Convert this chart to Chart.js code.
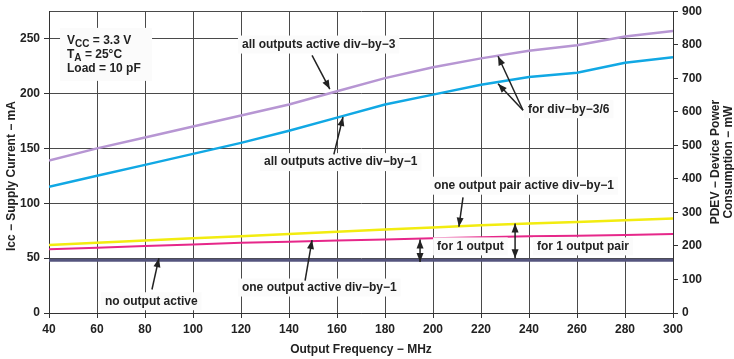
<!DOCTYPE html>
<html>
<head>
<meta charset="utf-8">
<script src="https://cdn.jsdelivr.net/npm/chart.js@4"></script>
<style>
  html, body { margin: 0; padding: 0; background: #fff; }
  canvas { display: block; }
</style>
</head>
<body>
<canvas id="grafico" width="734" height="359"></canvas>
<script>
// output frequency (MHz)
const freq = [40, 60, 80, 100, 120, 140, 160, 180, 200, 220, 240, 260, 280, 300];

// supply current (mA)
const allDivBy3  = [139, 150, 160, 170, 180, 190, 202, 214, 224, 232, 239, 244, 252, 257];
const allDivBy1  = [115, 125, 135, 145, 155, 166, 178, 190, 199, 208, 215, 219, 228, 233];
const pairDivBy1 = [62, 64, 66, 68, 70, 72, 74, 76, 78, 80, 81.5, 83, 84.5, 86];
const oneDivBy1  = [58, 59.5, 61, 62.5, 64, 65, 66, 67, 68, 69, 70, 70.5, 71, 72];
const noOutput   = [48, 48, 48, 48, 48, 48, 48, 48, 48, 48, 48, 48, 48, 48];

const FONT = 'bold 12px "Liberation Sans", Arial, sans-serif';

function pts(vals) {
  return freq.map((f, i) => ({ x: f, y: vals[i] }));
}

function line(vals, color, width) {
  return {
    data: pts(vals),
    borderColor: color,
    borderWidth: width,
    pointRadius: 0,
    tension: 0,
    fill: false
  };
}

// text labels: [text, MHz, mA] (left edge, middle)
const notes = [
  ['all outputs active div\u2212by\u22123', 120.4, 244.6],
  ['all outputs active div\u2212by\u22121', 129.6, 137.5],
  ['for div\u2212by\u22123/6', 239.6, 185.7],
  ['one output pair active div\u2212by\u22121', 200.4, 116],
  ['for 1 output', 201.7, 60.7],
  ['for 1 output pair', 243.3, 60.7],
  ['no output active', 63.3, 10.7],
  ['one output active div\u2212by\u22121', 120.4, 23.2]
];

// arrows: [fromMHz, fromMA, toMHz, toMA, doubleHeaded]
const arrows = [
  [149.6, 234.8, 157.0, 204.0, false],
  [158.7, 144.6, 162.5, 178.6, false],
  [237.5, 184.8, 227.1, 233.9, false],
  [237.5, 184.8, 227.1, 208.9, false],
  [212.5, 105.4, 210.8, 78.6, false],
  [194.6, 67.0, 194.6, 46.5, true],
  [234.2, 81.5, 234.2, 50.0, true],
  [82.9, 21.4, 85.8, 50.0, false],
  [146.7, 29.5, 149.6, 66.5, false]
];

function head(ctx, x1, y1, x2, y2) {
  const a = Math.atan2(y2 - y1, x2 - x1);
  const L = 9, W = 3.5;
  ctx.beginPath();
  ctx.moveTo(x2, y2);
  ctx.lineTo(x2 - L * Math.cos(a) + W * Math.sin(a), y2 - L * Math.sin(a) - W * Math.cos(a));
  ctx.lineTo(x2 - L * Math.cos(a) - W * Math.sin(a), y2 - L * Math.sin(a) + W * Math.cos(a));
  ctx.closePath();
  ctx.fill();
}

const notesPlugin = {
  id: 'notes',
  afterDatasetsDraw(chart) {
    const ctx = chart.ctx;
    const sx = chart.scales.x, sy = chart.scales.y;
    ctx.save();
    ctx.font = FONT;
    ctx.textBaseline = 'middle';

    // conditions box
    const bx = sx.getPixelForValue(44.6), by = sy.getPixelForValue(259.8);
    ctx.fillStyle = '#fbfbfb';
    ctx.fillRect(bx, by, 92, 53);
    ctx.fillStyle = '#222';
    const tx = bx + 7;
    ctx.fillText('V', tx, by + 13);
    let w = ctx.measureText('V').width;
    ctx.font = 'bold 10px "Liberation Sans", Arial, sans-serif';
    ctx.fillText('CC', tx + w, by + 16);
    let w2 = ctx.measureText('CC').width;
    ctx.font = FONT;
    ctx.fillText(' = 3.3 V', tx + w + w2, by + 13);
    ctx.fillText('T', tx, by + 27);
    w = ctx.measureText('T').width;
    ctx.font = 'bold 10px "Liberation Sans", Arial, sans-serif';
    ctx.fillText('A', tx + w, by + 30);
    w2 = ctx.measureText('A').width;
    ctx.font = FONT;
    ctx.fillText(' = 25\u00B0C', tx + w + w2, by + 27);
    ctx.fillText('Load = 10 pF', tx, by + 41);

    notes.forEach(([t, f, v]) => {
      const x = sx.getPixelForValue(f), y = sy.getPixelForValue(v);
      const tw = ctx.measureText(t).width;
      ctx.fillStyle = '#fbfbfb';
      ctx.fillRect(x - 4, y - 9, tw + 8, 18);
      ctx.fillStyle = '#222';
      ctx.fillText(t, x, y);
    });

    ctx.strokeStyle = '#222';
    ctx.fillStyle = '#222';
    ctx.lineWidth = 1.5;
    arrows.forEach(([f1, v1, f2, v2, dbl]) => {
      const x1 = sx.getPixelForValue(f1), y1 = sy.getPixelForValue(v1);
      const x2 = sx.getPixelForValue(f2), y2 = sy.getPixelForValue(v2);
      ctx.beginPath();
      ctx.moveTo(x1, y1);
      ctx.lineTo(x2, y2);
      ctx.stroke();
      head(ctx, x1, y1, x2, y2);
      if (dbl) head(ctx, x2, y2, x1, y1);
    });

    // axis titles
    ctx.fillStyle = '#222';
    ctx.textAlign = 'center';
    const area = chart.chartArea;
    const mid = (area.top + area.bottom) / 2;
    ctx.fillText('Output Frequency \u2212 MHz', (area.left + area.right) / 2, 350);
    ctx.translate(12, mid + 14);
    ctx.rotate(-Math.PI / 2);
    ctx.fillText('Icc \u2212 Supply Current \u2212 mA', 0, 0);
    ctx.restore();

    ctx.save();
    ctx.font = FONT;
    ctx.fillStyle = '#222';
    ctx.textAlign = 'center';
    ctx.textBaseline = 'middle';
    ctx.translate(716, mid);
    ctx.rotate(-Math.PI / 2);
    ctx.fillText('PDEV \u2212 Device Power', 0, 0);
    ctx.fillText('Consumption \u2212 mW', 0, 13);
    ctx.restore();
  }
};

const tickFont = { family: '"Liberation Sans", Arial, sans-serif', size: 12, weight: 'bold' };

new Chart(document.getElementById('grafico'), {
  type: 'line',
  data: {
    datasets: [
      line(noOutput, '#55557e', 3),
      line(oneDivBy1, '#e6278a', 2),
      line(pairDivBy1, '#f2ec10', 2.5),
      line(allDivBy1, '#11a8e4', 2.5),
      line(allDivBy3, '#b796d3', 2.5)
    ]
  },
  options: {
    responsive: false,
    animation: false,
    layout: { padding: { top: 5, left: 0, right: 0, bottom: 0 } },
    plugins: { legend: { display: false }, tooltip: { enabled: false } },
    scales: {
      x: {
        type: 'linear',
        min: 40,
        max: 300,
        ticks: { stepSize: 20, font: tickFont, color: '#222', padding: 4, maxRotation: 0 },
        grid: { color: '#4a4a4a', tickLength: 5, tickColor: '#333' },
        border: { color: '#333' },
        afterFit(s) { s.height = 46; }
      },
      y: {
        position: 'left',
        min: 0,
        max: 275,
        ticks: {
          stepSize: 50,
          font: tickFont,
          color: '#222',
          padding: 4,
          callback: v => (v % 50 === 0 ? v : '')
        },
        grid: {
          color: '#4a4a4a',
          tickLength: 5,
          tickColor: c => (c.tick && c.tick.value % 50 === 0 ? '#333' : 'rgba(0,0,0,0)')
        },
        border: { color: '#333' },
        afterFit(s) { s.width = 49; }
      },
      y2: {
        position: 'right',
        min: 0,
        max: 900,
        ticks: { stepSize: 100, font: tickFont, color: '#222', padding: 4 },
        grid: { drawOnChartArea: false, tickLength: 5, tickColor: '#333' },
        border: { color: '#333' },
        afterFit(s) { s.width = 61; }
      }
    }
  },
  plugins: [notesPlugin]
});
</script>
</body>
</html>
